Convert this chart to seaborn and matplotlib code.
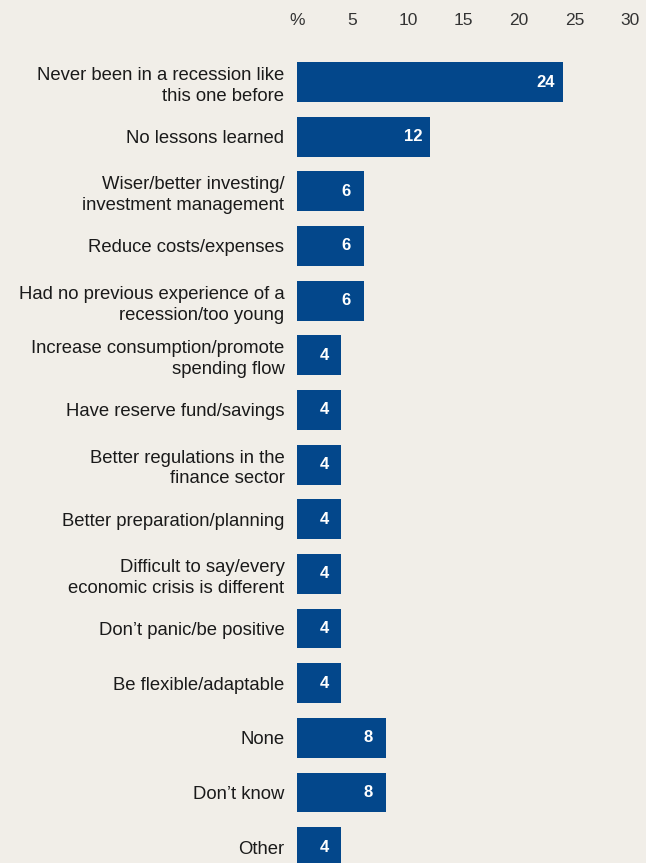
import matplotlib
matplotlib.use("Agg")
import matplotlib.pyplot as plt
import seaborn as sns
import pandas as pd

categories = [
    "Never been in a recession like\nthis one before",
    "No lessons learned",
    "Wiser/better investing/\ninvestment management",
    "Reduce costs/expenses",
    "Had no previous experience of a\nrecession/too young",
    "Increase consumption/promote\nspending flow",
    "Have reserve fund/savings",
    "Better regulations in the\nfinance sector",
    "Better preparation/planning",
    "Difficult to say/every\neconomic crisis is different",
    "Don\u2019t panic/be positive",
    "Be flexible/adaptable",
    "None",
    "Don\u2019t know",
    "Other",
]
values = [24, 12, 6, 6, 6, 4, 4, 4, 4, 4, 4, 4, 8, 8, 4]
tick_values = [0, 5, 10, 15, 20, 25, 30]
tick_labels = ["%", "5", "10", "15", "20", "25", "30"]

BG = "#f1eee8"
BAR = "#03478b"
FONT = ["Liberation Sans", "DejaVu Sans"]

sns.set_theme(style="white")
plt.rcParams["font.family"] = FONT

df = pd.DataFrame({"label": categories, "value": values})

W, H = 646, 863
fig = plt.figure(figsize=(W / 100, H / 100), dpi=100)
fig.patch.set_facecolor(BG)

left_px, top_px = 297, 50
ax = fig.add_axes([left_px / W, 0, (W - left_px) / W, 1 - top_px / H])
ax.set_facecolor(BG)

sns.barplot(data=df, x="value", y="label", orient="h", color=BAR,
            width=0.73, saturation=1, linewidth=0, ax=ax)

ax.set_xlim(0, (W - left_px) / 11.1)
ax.set_ylim(14.29, -0.586)

ax.xaxis.tick_top()
ax.set_xticks(tick_values)
ax.set_xticklabels(tick_labels, fontsize=12.5, color="#333333")
ax.tick_params(axis="x", length=0, pad=16)
ax.tick_params(axis="y", length=0, pad=9)
ax.set_yticks(range(len(categories)))
ax.set_yticklabels(categories, fontsize=13.3, color="#1a1a1a",
                   linespacing=1.3)
for lab in ax.get_yticklabels():
    lab.set_horizontalalignment("right")
ax.set_xlabel("")
ax.set_ylabel("")
for s in ax.spines.values():
    s.set_visible(False)

for i, v in enumerate(values):
    ax.annotate(str(v), xy=(v, i), xytext=(-12.5, 0), textcoords="offset points",
                ha="center", va="center", color="white", fontsize=12,
                fontweight="bold")

fig.savefig("out.png", dpi=100, facecolor=BG)
